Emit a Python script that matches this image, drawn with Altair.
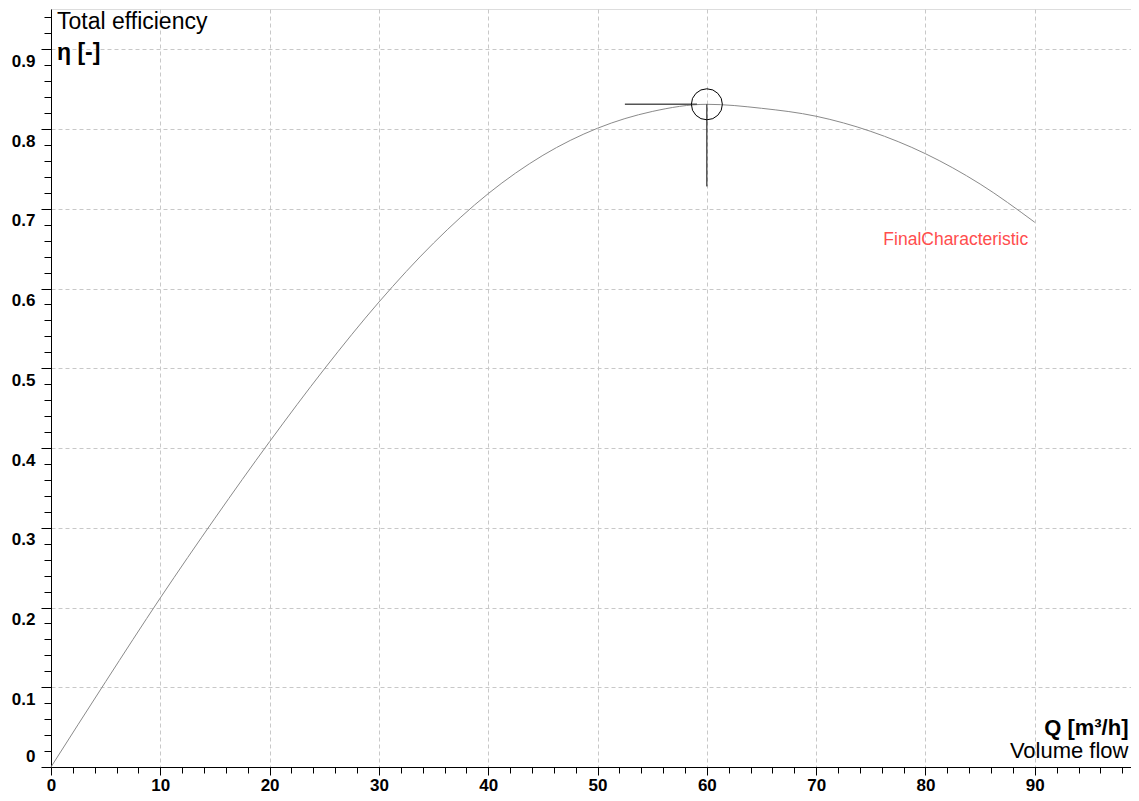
import altair as alt
import pandas as pd

# ---- data ----
q_vals = [0, 5, 10, 15, 20, 25, 30, 35, 40, 45, 50, 55, 60, 65, 70, 75, 80, 85, 90]
eta_vals = [0.0, 0.107, 0.212, 0.312, 0.408, 0.499, 0.583, 0.657, 0.719, 0.767,
            0.801, 0.822, 0.831, 0.826, 0.816, 0.797, 0.769, 0.731, 0.683]

bep_q = [60]
bep_eta = [0.831]
cross_left_q = [52.5]
cross_right_q = [59.1]
cross_bottom_eta = [0.728]

series_name = ["FinalCharacteristic"]
label_q = [89.4]
label_eta = [0.655]

x_ticks = [i * 2 for i in range(50)]               # 0 .. 98, labels every 10
y_ticks = [round(i * 0.02, 2) for i in range(48)]  # 0 .. 0.94, labels every 0.1

FONT = "Liberation Sans"
W, H = 1080, 758

curve = pd.DataFrame({"Q": q_vals, "eta": eta_vals})
bep = pd.DataFrame({"Q": bep_q, "eta": bep_eta, "Qa": cross_left_q, "Qb": cross_right_q,
                    "eta2": cross_bottom_eta})
lab = pd.DataFrame({"Q": label_q, "eta": label_eta, "name": series_name})

x_major = "abs(datum.value/10 - round(datum.value/10)) < 0.001"
y_major = "abs(datum.value*10 - round(datum.value*10)) < 0.001"

x_axis = alt.Axis(
    values=x_ticks, tickCount=200,
    labelExpr=f"({x_major}) && datum.value <= 90 ? format(datum.value, 'd') : ''",
    labelFont=FONT, labelFontSize=17, labelFontWeight="bold", labelColor="black",
    labelBaseline="alphabetic", labelPadding=15, labelOverlap=False, labelFlush=False,
    tickSize={"condition": {"test": x_major, "value": 8}, "value": 6},
    tickColor="black", domainColor="black",
    grid=True, gridColor="#c8c8c8", gridDash=[4, 3],
    gridOpacity={"condition": {"test": x_major, "value": 1}, "value": 0},
    title="Q [m³/h]", titleFont=FONT, titleFontSize=22, titleFontWeight="bold",
    titleColor="black", titleAlign="right", titleBaseline="alphabetic",
    titleAnchor="end", titleX=1077, titleY=-33, titleAngle=0,
)
y_axis = alt.Axis(
    values=y_ticks, tickCount=200,
    labelExpr=f"{y_major} ? format(datum.value, '.1~f') : ''",
    labelFont=FONT, labelFontSize=17, labelFontWeight="bold", labelColor="black",
    labelAlign="right", labelBaseline="middle", labelPadding=6,
    labelOffset={"condition": {"test": "datum.value == 0", "value": -11}, "value": 12},
    labelOverlap=False, labelFlush=False,
    tickSize={"condition": {"test": y_major, "value": 10}, "value": 7},
    tickColor="black", domainColor="black",
    grid=True, gridColor="#c8c8c8", gridDash=[4, 3],
    gridOpacity={"condition": {"test": y_major, "value": 1}, "value": 0},
    title="Volume flow", titleFont=FONT, titleFontSize=22, titleFontWeight="normal",
    titleColor="black", titleAlign="right", titleBaseline="alphabetic",
    titleAngle=0, titleX=1077, titleY=748,
)

xs = alt.Scale(domain=[0, 98.8], nice=False, zero=False)
ys = alt.Scale(domain=[0, 0.9505], nice=False, zero=False)

line = alt.Chart(curve).mark_line(color="#8a8a8a", strokeWidth=1, interpolate="monotone").encode(
    x=alt.X("Q:Q", scale=xs, axis=x_axis),
    y=alt.Y("eta:Q", scale=ys, axis=y_axis),
)

hline = alt.Chart(bep).mark_rule(color="#555555", strokeWidth=1.6).encode(
    x=alt.X("Qa:Q"), x2="Qb", y=alt.Y("eta:Q"),
)
vline = alt.Chart(bep).mark_rule(color="black", strokeWidth=1).encode(
    x=alt.X("Q:Q"), y=alt.Y("eta2:Q"), y2="eta",
)
circle = alt.Chart(bep).mark_point(shape="circle", size=960, filled=False,
                                   color="black", strokeWidth=1, opacity=1).encode(
    x=alt.X("Q:Q"), y=alt.Y("eta:Q"),
)
label = alt.Chart(lab).mark_text(align="right", baseline="alphabetic", font=FONT,
                                 fontSize=17.5, color="#ff4d4d").encode(
    x=alt.X("Q:Q"), y=alt.Y("eta:Q"), text="name:N",
)

chart = alt.layer(line, hline, vline, circle, label).properties(
    width=W, height=H,
    title=alt.TitleParams(
        text="Total efficiency", subtitle="η [-]",
        anchor="start", frame="group", orient="top", offset=-56, dx=6,
        font=FONT, fontSize=23, fontWeight="normal", color="black",
        subtitleFont=FONT, subtitleFontSize=23, subtitleFontWeight="bold",
        subtitleColor="black", subtitlePadding=8,
    ),
    autosize=alt.AutoSizeParams(type="none"),
    padding={"left": 43, "top": 1, "right": 0, "bottom": 26},
).configure_view(stroke="#555555", strokeWidth=1).configure(background="white")

chart.save("out.html", embed_options={"renderer": "svg", "actions": False})
